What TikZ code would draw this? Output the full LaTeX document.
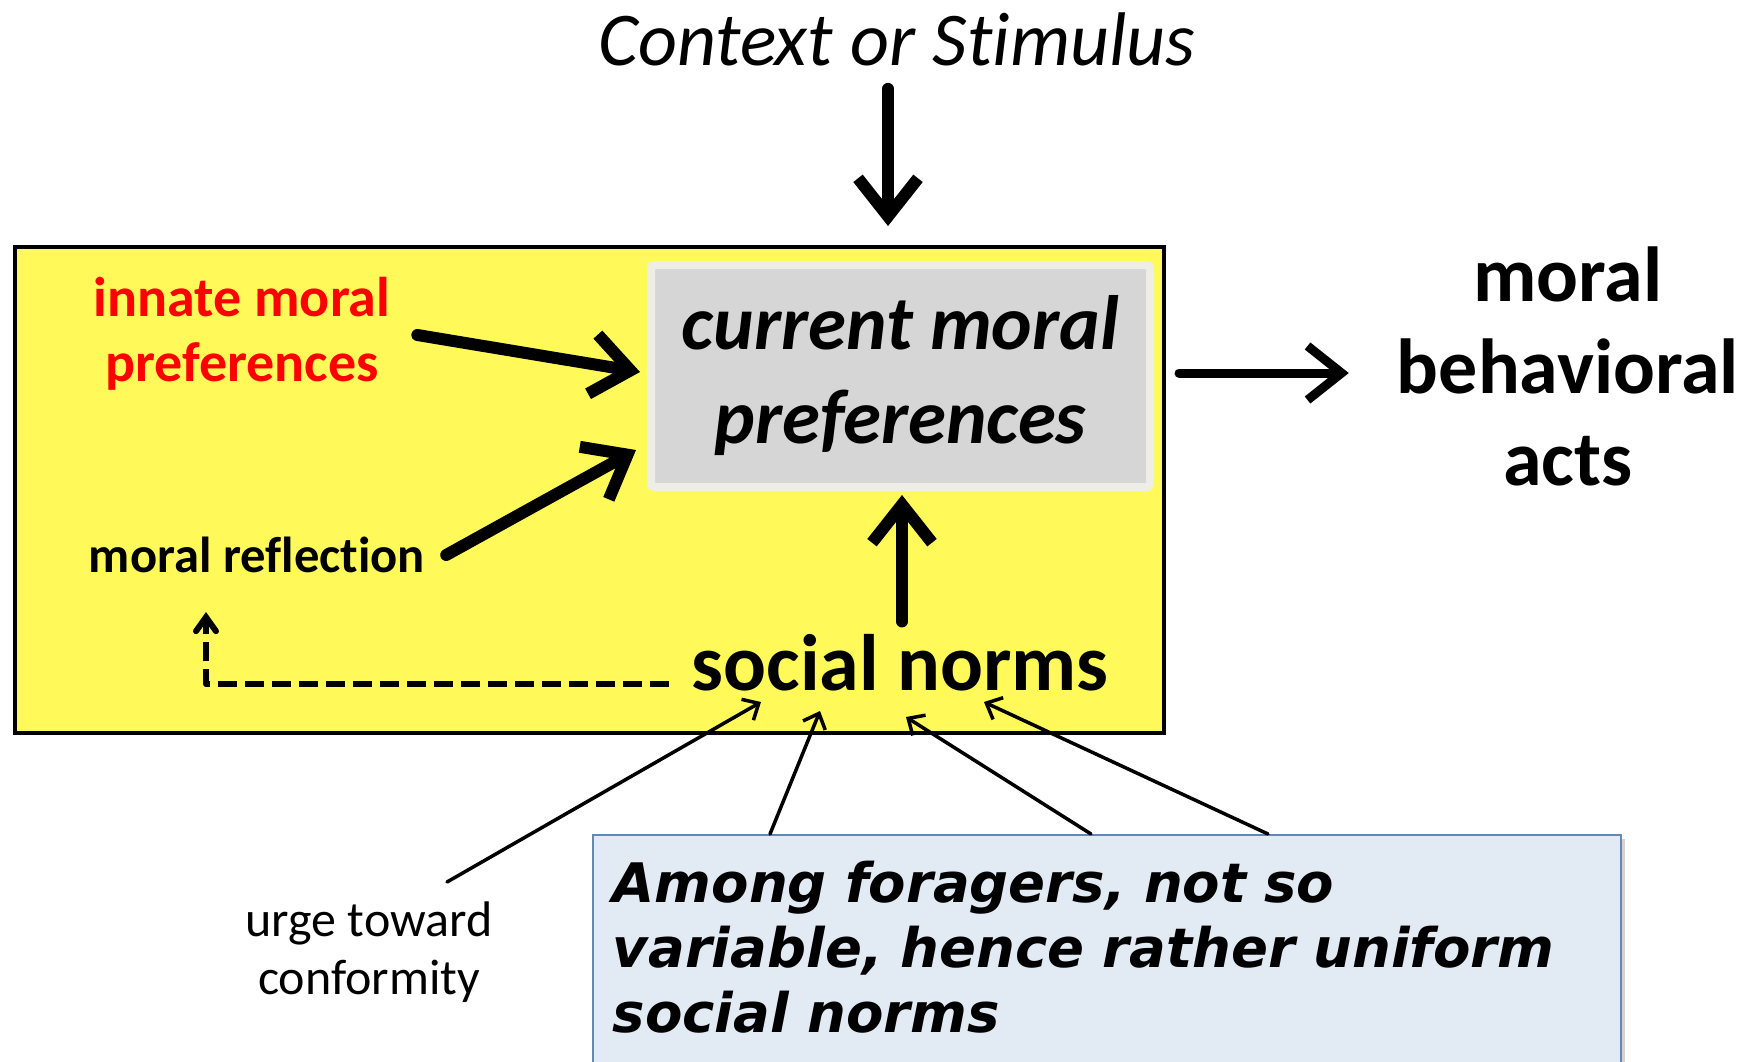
\documentclass[tikz,border=0pt]{standalone}
\usepackage{fontspec}
\setmainfont{Carlito}[Ligatures=NoCommon]
\newfontfamily\dvs{DejaVu Sans}
\usetikzlibrary{arrows.meta,shadows,calc}
\definecolor{yel}{RGB}{255,250,90}
\definecolor{grayfill}{RGB}{214,214,214}
\definecolor{grayedge}{RGB}{238,238,230}
\definecolor{bluefill}{RGB}{226,234,244}
\definecolor{blueedge}{RGB}{100,135,180}
\begin{document}
\begin{tikzpicture}[x=1pt,y=-1pt,
  bigarr/.style={line width=12pt, line cap=round, line join=round, -{Straight Barb[length=38pt,width=60pt]}},
  midarr/.style={line width=9pt, line cap=round, line join=round, -{Straight Barb[length=34pt,width=54pt]}},
  thinarr/.style={line width=3.5pt, line cap=round, line join=round, -{Straight Barb[length=13pt,width=24pt]}},
  dasharr/.style={line width=6pt, dash pattern=on 19pt off 8pt, line join=round, -{Straight Barb[length=14pt,width=20pt,line cap=round]}},
  lbl/.style={inner sep=0pt, align=center}]
\useasboundingbox (0,0) rectangle (1762,1061);
\clip (0,0) rectangle (1762,1061);

% yellow frame
\node (frame) [draw=black, fill=yel, line width=4.5pt, minimum width=1149pt, minimum height=486pt, inner sep=0pt] at (589.5,490) {};

% current moral preferences
\node (cur) [fill=grayfill, draw=grayedge, line width=8pt, rounded corners=3pt, minimum width=499pt, minimum height=222pt, inner sep=0pt, align=center, font=\bfseries\itshape\fontsize{77}{94}\selectfont] at (900.5,376) {current moral\\preferences};

\node (ctx) [lbl, font=\itshape\fontsize{76}{90}\selectfont] at (897,39) {Context or Stimulus};
\node (innate) [lbl, text=red, font=\bfseries\fontsize{56}{65}\selectfont] at (242,334) {innate moral\\preferences};
\node (refl) [lbl, font=\bfseries\fontsize{50.6}{60}\selectfont] at (257,555) {moral reflection};
\node (norms) [lbl, font=\bfseries\fontsize{80}{90}\selectfont] at (900,663) {social norms};
\node (acts) [lbl, font=\bfseries\fontsize{78}{92}\selectfont] at (1568,366) {moral\\behavioral\\acts};
\node (urge) [lbl, font=\fontsize{50}{58}\selectfont] at (369,952) {urge toward\\conformity};

% blue box
\node (among) [anchor=north west, draw=blueedge, line width=1.5pt, fill=bluefill, inner xsep=20pt, inner ysep=26pt, text width=988pt, align=left, drop shadow={shadow xshift=4pt, shadow yshift=-4pt, opacity=0.35, fill=gray}, font=\dvs\bfseries\itshape\fontsize{54.5}{65}\selectfont] at (592,834) {Among foragers, not so\\variable, hence rather uniform\\social norms\rule[-90pt]{0pt}{0pt}};

% arrows
\draw[bigarr] ([shift={(-9,23)}]ctx.south) -- ([shift={(-12.5,-35)}]cur.north);
\draw[bigarr] ([shift={(27,1)}]innate.east) -- ([shift={(-7,-4)}]cur.west);
\draw[bigarr] ([shift={(21,0)}]refl.east) -- ([shift={(-11,-41)}]cur.south west);
\draw[bigarr] ([shift={(2,-13)}]norms.north) -- ([shift={(1.5,4)}]cur.south);
\draw[midarr] ([shift={(25,-3)}]cur.east) -- ([shift={(-48,7)}]acts.west);
\draw[dasharr] ([shift={(-22,21)}]norms.west) -| ([shift={(-51,57)}]refl.center);

\draw[thinarr] ([shift={(78,-70)}]urge.center) -- ([shift={(-139,39)}]norms.center);
\draw[thinarr] ([shift={(178,0)}]among.north west) -- ([shift={(-80,48)}]norms.center);
\draw[thinarr] ([shift={(499,0)}]among.north west) -- ([shift={(6,54)}]norms.center);
\draw[thinarr] ([shift={(676,0)}]among.north west) -- ([shift={(84,39)}]norms.center);
\end{tikzpicture}
\end{document}
